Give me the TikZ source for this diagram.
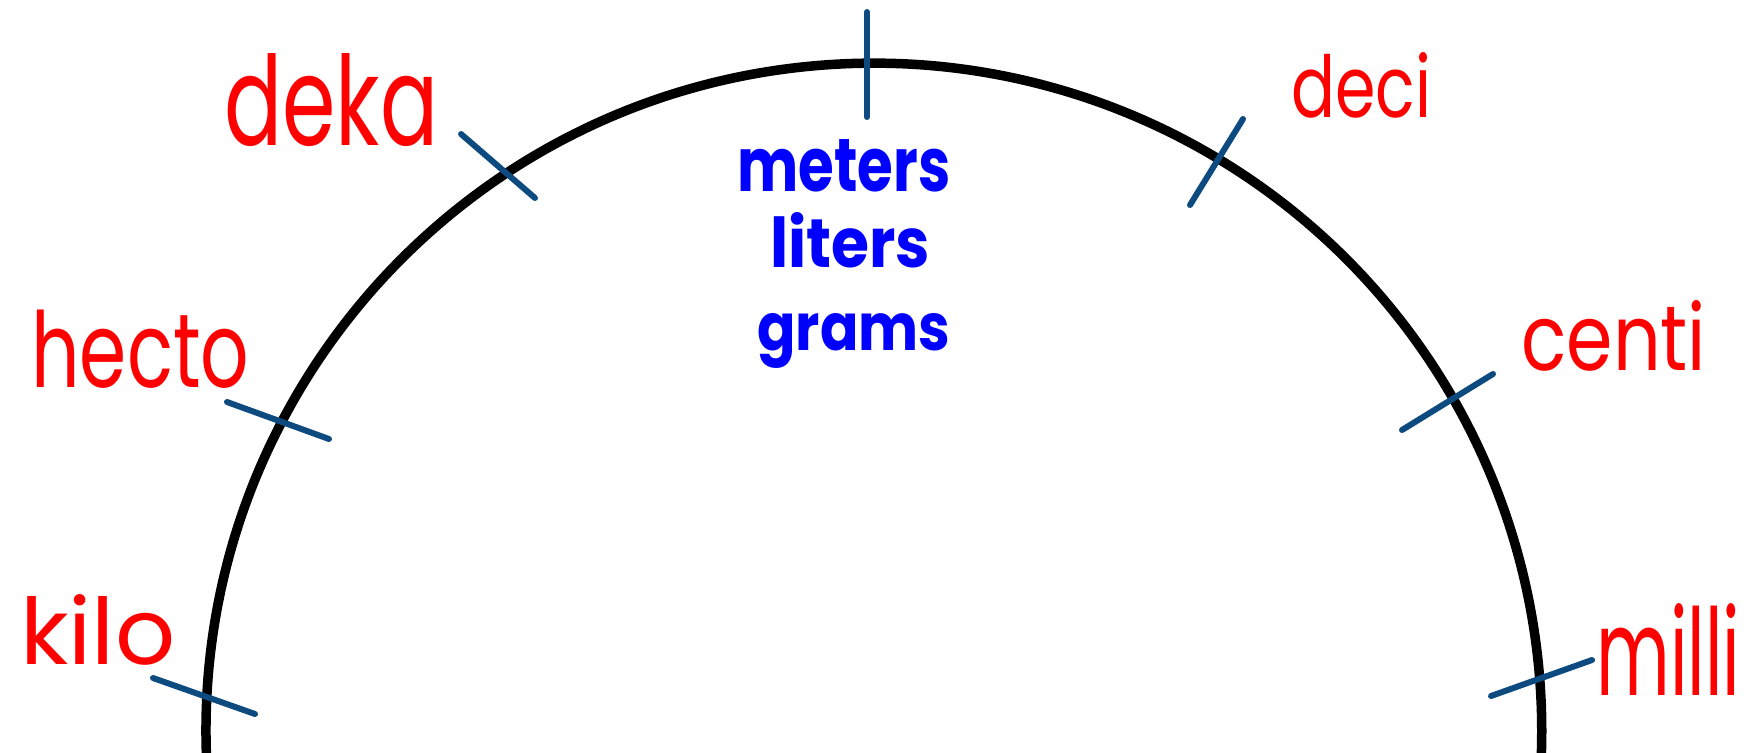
\documentclass[tikz,border=0pt]{standalone}
\usepackage{fontspec}
\setmainfont{Poppins}
\usepackage{graphicx}
\definecolor{tickblue}{RGB}{12,74,128}
\definecolor{penred}{RGB}{255,0,0}
\definecolor{penblue}{RGB}{0,0,255}
\begin{document}
\begin{tikzpicture}[x=0.02cm,y=0.02cm,
  arcline/.style={line width=0.19cm, black},
  tickline/.style={line width=0.12cm, tickblue, line cap=round},
  redlabel/.style={text=penred, inner sep=0pt, anchor=base west},
  bluelabel/.style={text=penblue, inner sep=0pt, anchor=base west, font=\bfseries}]
\useasboundingbox (0,0) rectangle (1760,752);
\clip (0,0) rectangle (1760,752);
\coordinate (C) at (874,21);
\draw[arcline] (C) ++(184:668) arc[start angle=184, end angle=-4, radius=13.36cm];
% tick end points
\coordinate (k1) at (153,74);   \coordinate (k2) at (255,38);
\coordinate (h1) at (227,350);  \coordinate (h2) at (329,313);
\coordinate (da1) at (461,618); \coordinate (da2) at (535,554);
\coordinate (m1) at (867,740);  \coordinate (m2) at (867,635);
\coordinate (de1) at (1243,633);\coordinate (de2) at (1190,547);
\coordinate (c1) at (1493,378); \coordinate (c2) at (1402,322);
\coordinate (mi1) at (1592,92); \coordinate (mi2) at (1491,56);
\draw[tickline] (k1) -- (k2);
\draw[tickline] (h1) -- (h2);
\draw[tickline] (da1) -- (da2);
\draw[tickline] (m1) -- (m2);
\draw[tickline] (de1) -- (de2);
\draw[tickline] (c1) -- (c2);
\draw[tickline] (mi1) -- (mi2);
% prefixes
\node[redlabel] (kilo)  at (20,88)    {\resizebox{3.1cm}{1.4cm}{kilo}};
\node[redlabel] (hecto) at (31,365)   {\resizebox{4.36cm}{1.55cm}{hecto}};
\node[redlabel] (deka)  at (224,606)  {\resizebox{4.28cm}{1.84cm}{deka}};
\node[redlabel] (deci)  at (1291,634) {\resizebox{2.8cm}{1.3cm}{deci}};
\node[redlabel] (centi) at (1521,382) {\resizebox{3.7cm}{1.4cm}{centi}};
\node[redlabel] (milli) at (1596,57)  {\resizebox{2.88cm}{1.84cm}{milli}};
% units
\node[bluelabel] (meters) at (737,560) {\resizebox{4.26cm}{1.04cm}{meters}};
\node[bluelabel] (liters) at (770,484) {\resizebox{3.2cm}{1.1cm}{liters}};
\node[bluelabel] (grams)  at (757,402) {\resizebox{3.86cm}{0.74cm}{grams}};
\end{tikzpicture}
\end{document}
